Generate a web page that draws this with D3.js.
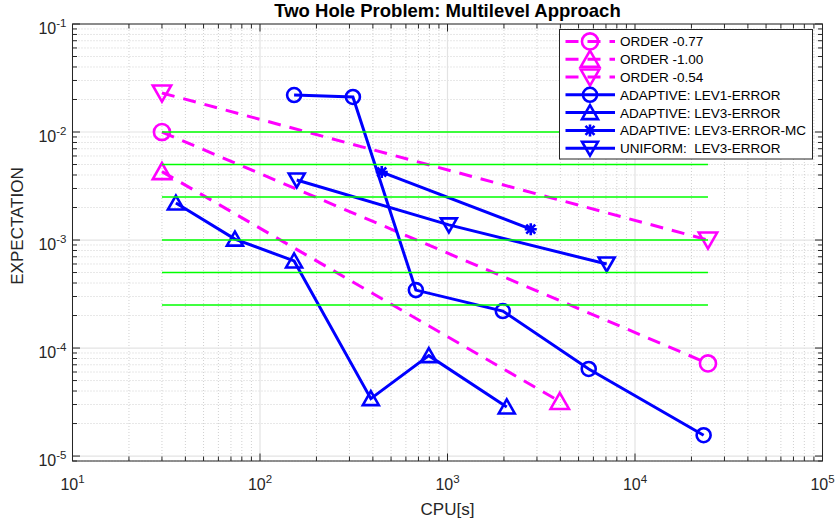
<!DOCTYPE html>
<html>
<head>
<meta charset="utf-8">
<script src="https://cdn.jsdelivr.net/npm/d3@7"></script>
<style>
  html, body { margin: 0; padding: 0; background: #fff; }
  text { font-family: "Liberation Sans", Arial, Helvetica, sans-serif; }
</style>
</head>
<body>
<svg id="chart" width="836" height="525"></svg>
<script>
// ---------- data ----------
const xTickExps = [1, 2, 3, 4, 5];
const yTickExps = [-5, -4, -3, -2, -1];

const order077X = [30, 24500];
const order077Y = [1.0e-2, 7.2e-5];
const order100X = [30, 3970];
const order100Y = [4.3e-3, 3.2e-5];
const order054X = [30, 24500];
const order054Y = [2.3e-2, 1.0e-3];

const lev1X = [152, 313, 678, 1972, 5665, 23230];
const lev1Y = [2.2e-2, 2.11e-2, 3.44e-4, 2.2e-4, 6.4e-5, 1.56e-5];
const lev3X = [35.6, 73.5, 152, 390, 795, 2070];
const lev3Y = [2.2e-3, 1.02e-3, 6.4e-4, 3.4e-5, 8.5e-5, 2.85e-5];
const lev3mcX = [446, 2780];
const lev3mcY = [4.26e-3, 1.26e-3];
const uniX = [157, 1017, 7060];
const uniY = [3.6e-3, 1.38e-3, 6.0e-4];

const greenLevels = [1e-2, 5e-3, 2.5e-3, 1e-3, 5e-4, 2.5e-4];
const greenX = [30, 24500];

const legendLabels = ["ORDER -0.77", "ORDER -1.00", "ORDER -0.54",
  "ADAPTIVE: LEV1-ERROR", "ADAPTIVE: LEV3-ERROR", "ADAPTIVE: LEV3-ERROR-MC", "UNIFORM:  LEV3-ERROR"];

// ---------- setup ----------
const svg = d3.select("#chart");
const L = 72.5, R = 822.5, T = 24, B = 461;
const x = d3.scaleLog().domain([10, 1e5]).range([L, R]);
const y = d3.scaleLog().domain([9e-6, 0.1]).range([B, T]);
const axisColor = "#262626";
const gridColor = "#d0d0d0";
const MAG = "#ff00ff", BLUE = "#0000ff", GREEN = "#00ff00";

// minor/major values
const xMinor = [], yMinor = [];
for (let e = 1; e < 5; e++) for (let k = 2; k <= 9; k++) xMinor.push(k * Math.pow(10, e));
for (let e = -6; e < -1; e++) for (let k = 2; k <= 9; k++) { const v = k * Math.pow(10, e); if (v >= 9e-6 && v <= 0.1) yMinor.push(v); }
const xMajor = xTickExps.map(e => Math.pow(10, e));
const yMajor = yTickExps.map(e => Math.pow(10, e));

const grid = svg.append("g");
grid.selectAll(".gxm").data(xMinor).enter().append("line")
  .attr("x1", d => x(d)).attr("x2", d => x(d)).attr("y1", T).attr("y2", B)
  .attr("stroke", gridColor).attr("stroke-width", 1).attr("stroke-dasharray", "1,2");
grid.selectAll(".gym").data(yMinor).enter().append("line")
  .attr("y1", d => y(d)).attr("y2", d => y(d)).attr("x1", L).attr("x2", R)
  .attr("stroke", gridColor).attr("stroke-width", 1).attr("stroke-dasharray", "1,2");
grid.selectAll(".gxM").data(xMajor).enter().append("line")
  .attr("x1", d => x(d)).attr("x2", d => x(d)).attr("y1", T).attr("y2", B)
  .attr("stroke", "#e3e3e3").attr("stroke-width", 1.2);
grid.selectAll(".gyM").data(yMajor).enter().append("line")
  .attr("y1", d => y(d)).attr("y2", d => y(d)).attr("x1", L).attr("x2", R)
  .attr("stroke", "#e3e3e3").attr("stroke-width", 1.2);

// ---------- markers ----------
function drawMarker(g, type, cx, cy, color, big) {
  const sw = 2.6;
  const k = big ? 1.15 : 1;
  if (type === "circle") {
    g.append("circle").attr("cx", cx).attr("cy", cy).attr("r", 7 * k)
      .attr("fill", "none").attr("stroke", color).attr("stroke-width", sw);
  } else if (type === "up") {
    g.append("path").attr("d", `M${cx},${cy - 7.5 * k}L${cx + 8 * k},${cy + 6.5 * k}L${cx - 8 * k},${cy + 6.5 * k}Z`)
      .attr("fill", "none").attr("stroke", color).attr("stroke-width", sw).attr("stroke-linejoin", "miter");
  } else if (type === "down") {
    g.append("path").attr("d", `M${cx},${cy + 7.5 * k}L${cx + 8 * k},${cy - 6.5 * k}L${cx - 8 * k},${cy - 6.5 * k}Z`)
      .attr("fill", "none").attr("stroke", color).attr("stroke-width", sw).attr("stroke-linejoin", "miter");
  } else if (type === "star") {
    const s = 6, d = 4.5;
    g.append("path").attr("d",
      `M${cx - s},${cy}L${cx + s},${cy}M${cx},${cy - s}L${cx},${cy + s}M${cx - d},${cy - d}L${cx + d},${cy + d}M${cx - d},${cy + d}L${cx + d},${cy - d}`)
      .attr("fill", "none").attr("stroke", color).attr("stroke-width", sw);
  }
}

const line = d3.line().x(d => x(d[0])).y(d => y(d[1]));
const zip = (a, b) => a.map((v, i) => [v, b[i]]);

const series = [
  { xs: order077X, ys: order077Y, color: MAG, dash: "13,9", marker: "circle" },
  { xs: order100X, ys: order100Y, color: MAG, dash: "13,9", marker: "up" },
  { xs: order054X, ys: order054Y, color: MAG, dash: "13,9", marker: "down" },
  { xs: lev1X, ys: lev1Y, color: BLUE, dash: null, marker: "circle" },
  { xs: lev3X, ys: lev3Y, color: BLUE, dash: null, marker: "up" },
  { xs: lev3mcX, ys: lev3mcY, color: BLUE, dash: null, marker: "star" },
  { xs: uniX, ys: uniY, color: BLUE, dash: null, marker: "down" }
];

const plot = svg.append("g");
function drawSeries(s) {
  const pts = zip(s.xs, s.ys);
  const p = plot.append("path").attr("d", line(pts)).attr("fill", "none")
    .attr("stroke", s.color).attr("stroke-width", 3);
  if (s.dash) p.attr("stroke-dasharray", s.dash);
  pts.forEach(d => drawMarker(plot, s.marker, x(d[0]), y(d[1]), s.color, s.color === MAG));
}
series.forEach(drawSeries);

// green reference lines
plot.selectAll(".green").data(greenLevels).enter().append("path")
  .attr("d", d => line([[greenX[0], d], [greenX[1], d]]))
  .attr("stroke", GREEN).attr("stroke-width", 1.5).attr("fill", "none");

// ---------- axes box and ticks ----------
const ax = svg.append("g");
ax.append("rect").attr("x", L).attr("y", T).attr("width", R - L).attr("height", B - T)
  .attr("fill", "none").attr("stroke", axisColor).attr("stroke-width", 1);
const tickG = ax.append("g").attr("stroke", axisColor).attr("stroke-width", 1);
function xTicks(vals, len) {
  vals.forEach(v => {
    tickG.append("line").attr("x1", x(v)).attr("x2", x(v)).attr("y1", B).attr("y2", B - len);
    tickG.append("line").attr("x1", x(v)).attr("x2", x(v)).attr("y1", T).attr("y2", T + len);
  });
}
function yTicks(vals, len) {
  vals.forEach(v => {
    tickG.append("line").attr("y1", y(v)).attr("y2", y(v)).attr("x1", L).attr("x2", L + len);
    tickG.append("line").attr("y1", y(v)).attr("y2", y(v)).attr("x1", R).attr("x2", R - len);
  });
}
xTicks(xMajor, 7.5); xTicks(xMinor, 4.5);
yTicks(yMajor, 7.5); yTicks(yMinor, 4.5);

// tick labels
xTickExps.forEach(e => {
  const t = ax.append("text").attr("x", x(Math.pow(10, e))).attr("y", B + 29)
    .attr("text-anchor", "middle").attr("fill", axisColor).attr("font-size", 16);
  t.append("tspan").text("10");
  t.append("tspan").attr("dy", -7).attr("font-size", 11.5).text(String(e));
});
yTickExps.forEach(e => {
  const t = ax.append("text").attr("x", L - 6).attr("y", y(Math.pow(10, e)) + 10)
    .attr("text-anchor", "end").attr("fill", axisColor).attr("font-size", 16);
  t.append("tspan").text("10");
  t.append("tspan").attr("dy", -7).attr("font-size", 11.5).text(String(e));
});

// axis labels and title
svg.append("text").attr("x", (L + R) / 2).attr("y", 515).attr("text-anchor", "middle")
  .attr("font-size", 17).attr("fill", axisColor).text("CPU[s]");
svg.append("text").attr("transform", "translate(23,226) rotate(-90)")
  .attr("text-anchor", "middle").attr("font-size", 17).attr("fill", axisColor).text("EXPECTATION");
svg.append("text").attr("x", (L + R) / 2).attr("y", 16.5).attr("text-anchor", "middle")
  .attr("font-size", 18.5).attr("font-weight", "bold").attr("fill", "#000")
  .text("Two Hole Problem: Multilevel Approach");

// ---------- legend ----------
const lg = svg.append("g");
lg.append("rect").attr("x", 559.5).attr("y", 29.5).attr("width", 253).attr("height", 129.5)
  .attr("fill", "#fff").attr("stroke", axisColor).attr("stroke-width", 1);
legendLabels.forEach((lab, i) => {
  const s = series[i];
  const ly = 41.4 + i * 17.8;
  const p = lg.append("line").attr("x1", 565.5).attr("x2", 615).attr("y1", ly).attr("y2", ly)
    .attr("stroke", s.color).attr("stroke-width", 3);
  if (s.dash) p.attr("stroke-dasharray", s.dash);
  drawMarker(lg, s.marker, 590, ly, s.color, s.color === MAG);
  lg.append("text").attr("x", 620).attr("y", ly + 5).attr("font-size", 13.5).attr("fill", "#000")
    .style("white-space", "pre").text(lab);
});
</script>
</body>
</html>
